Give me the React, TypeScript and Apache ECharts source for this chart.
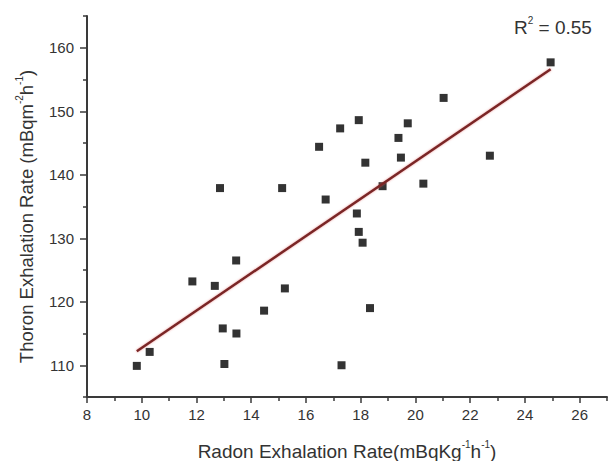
import React, { useEffect, useRef } from "react";
import * as echarts from "echarts";

// Radon exhalation rate (x) vs thoron exhalation rate (y)
const radon = [9.82, 10.29, 11.85, 12.67, 12.86, 12.96, 13.02, 13.45, 13.46, 14.47, 15.13, 15.23, 16.48, 16.72, 17.25, 17.3, 17.86, 17.93, 17.93, 18.07, 18.17, 18.34, 18.8, 19.38, 19.47, 19.72, 20.29, 21.03, 22.72, 24.94];
const thoron = [109.9, 112.1, 123.2, 122.5, 137.9, 115.8, 110.2, 126.5, 115.0, 118.6, 137.9, 122.1, 144.4, 136.1, 147.3, 110.0, 133.9, 148.6, 131.0, 129.3, 141.9, 119.0, 138.2, 145.8, 142.7, 148.1, 138.6, 152.1, 143.0, 157.7];

// Linear fit end points
const fitX = [9.82, 24.94];
const fitY = [112.2, 156.6];

const xMajorTicks = [8, 10, 12, 14, 16, 18, 20, 22, 24, 26];
const xMinorTicks = [9, 11, 13, 15, 17, 19, 21, 23, 25, 27];
const yMajorTicks = [110, 120, 130, 140, 150, 160];
const yMinorTicks = [105, 115, 125, 135, 145, 155, 165];

const rSquaredText = "0.55";

const FONT = "'Liberation Sans', Arial, Helvetica, sans-serif";
const AXIS_COLOR = "#3a3a3a";
const TEXT_COLOR = "#333";

export default function App() {
  const ref = useRef<HTMLDivElement>(null);

  useEffect(() => {
    if (!ref.current) return;
    const chart = echarts.init(ref.current, null, { renderer: "svg" });

    const points = radon.map((x, i) => [x, thoron[i]]);
    const fit = fitX.map((x, i) => [x, fitY[i]]);

    const supRich = {
      sup: { fontSize: 10, fontFamily: FONT, color: TEXT_COLOR, verticalAlign: "top", lineHeight: 11 },
    };

    const hiddenAxisBase = {
      axisLine: { show: false },
      axisLabel: { show: false },
      splitLine: { show: false },
    };

    chart.setOption({
      animation: false,
      backgroundColor: "#fff",
      grid: { left: 87, right: 4, top: 16, bottom: 64, containLabel: false, outerBoundsMode: "none" },
      xAxis: [
        {
          type: "value",
          min: 8,
          max: 27,
          interval: 2,
          name: "Radon Exhalation Rate(mBqKg{sup|-1}h{sup|-1})",
          nameLocation: "middle",
          nameGap: 42,
          nameTextStyle: { fontSize: 19, lineHeight: 24, fontFamily: FONT, color: TEXT_COLOR, rich: supRich },
          axisLine: { show: true, lineStyle: { color: AXIS_COLOR, width: 2 } },
          axisTick: { show: true, length: 6, customValues: xMajorTicks, lineStyle: { color: AXIS_COLOR, width: 1.5 } },
          axisLabel: { show: true, customValues: xMajorTicks, fontSize: 15, fontFamily: FONT, color: TEXT_COLOR, margin: 10 },
          splitLine: { show: false },
        },
        {
          type: "value",
          min: 8,
          max: 27,
          position: "bottom",
          ...hiddenAxisBase,
          axisTick: { show: true, length: 4, customValues: xMinorTicks, lineStyle: { color: AXIS_COLOR, width: 1.5 } },
        },
      ],
      yAxis: [
        {
          type: "value",
          min: 105,
          max: 165,
          interval: 5,
          name: "Thoron Exhalation Rate (mBqm{sup|-2}h{sup|-1})",
          nameLocation: "middle",
          nameGap: 47,
          nameTextStyle: {
            fontSize: 18.5,
            lineHeight: 24,
            fontFamily: FONT,
            color: TEXT_COLOR,
            rich: supRich,
            padding: [0, 20, 0, 0],
          },
          axisLine: { show: true, lineStyle: { color: AXIS_COLOR, width: 2 } },
          axisTick: { show: true, length: 7, customValues: yMajorTicks, lineStyle: { color: AXIS_COLOR, width: 1.5 } },
          axisLabel: { show: true, customValues: yMajorTicks, fontSize: 15, fontFamily: FONT, color: TEXT_COLOR, margin: 13 },
          splitLine: { show: false },
        },
        {
          type: "value",
          min: 105,
          max: 165,
          position: "left",
          offset: 0,
          ...hiddenAxisBase,
          axisTick: { show: true, length: 4, customValues: yMinorTicks, lineStyle: { color: AXIS_COLOR, width: 1.5 } },
        },
      ],
      series: [
        {
          type: "scatter",
          data: points,
          symbol: "rect",
          symbolSize: 8,
          itemStyle: { color: "#000" },
          z: 2,
        },
        {
          type: "line",
          data: fit,
          symbol: "none",
          lineStyle: {
            color: "#7a2626",
            width: 2.5,
            shadowColor: "rgba(220, 90, 90, 0.6)",
            shadowBlur: 2,
          },
          z: 3,
        },
      ],
      graphic: [
        {
          type: "text",
          left: 514,
          top: 15,
          style: {
            text: "R{sup|2} = " + rSquaredText,
            fontSize: 19,
            lineHeight: 24,
            fontFamily: FONT,
            fill: TEXT_COLOR,
            rich: {
              sup: { fontSize: 10, fontFamily: FONT, fill: TEXT_COLOR, verticalAlign: "top", lineHeight: 11 },
            },
          },
        },
      ],
    });

    return () => chart.dispose();
  }, []);

  return (
    <div
      ref={ref}
      style={{ position: "fixed", left: 0, top: 0, width: 611, height: 461, background: "#fff" }}
    />
  );
}
